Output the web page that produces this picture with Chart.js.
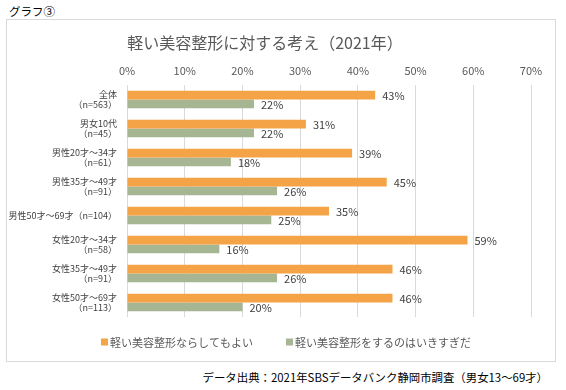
<!DOCTYPE html>
<html><head><meta charset="utf-8">
<script src="https://cdn.jsdelivr.net/npm/chart.js@4"></script>
<style>
body{margin:0;width:566px;height:390px;background:#fff;position:relative;overflow:hidden;font-family:"Noto Sans CJK JP",sans-serif;}
#lbl{position:absolute;left:9px;top:3px;font-size:11.5px;line-height:16px;color:#000;}
#box{position:absolute;left:6px;top:19px;width:550px;height:343px;border:1px solid #D9D9D9;box-sizing:border-box;}
#title{position:absolute;left:0;width:530px;top:31px;text-align:center;font-size:16px;line-height:22px;color:#595959;}
#src{position:absolute;right:18px;top:368px;font-size:11.4px;line-height:18px;color:#000;white-space:nowrap;}
#wrap{position:absolute;left:7px;top:20px;width:548px;height:341px;}
</style>
</head><body>
<div id="lbl">グラフ③</div>
<div id="box"></div>
<div id="wrap"><canvas id="c" width="548" height="341"></canvas></div>
<div id="title">軽い美容整形に対する考え（2021年）</div>
<div id="src">データ出典：2021年SBSデータバンク静岡市調査（男女13～69才）</div>
<script>
const categories = [
  ["全体","（n=563）"],
  ["男女10代","（n=45）"],
  ["男性20才～34才","（n=61）"],
  ["男性35才～49才","（n=91）"],
  "男性50才～69才（n=104）",
  ["女性20才～34才","（n=58）"],
  ["女性35才～49才","（n=91）"],
  ["女性50才～69才","（n=113）"]
];
const seriesNames = ["軽い美容整形ならしてもよい","軽い美容整形をするのはいきすぎだ"];
const okValues = [43,31,39,45,35,59,46,46];
const tooMuchValues = [22,22,18,26,25,16,26,20];
const tickValues = [0,10,20,30,40,50,60,70];
const colors = ["#F4A446","#A6B592"];
const FONT = '"Noto Sans CJK JP", sans-serif';

const dataLabels = {
  id:'dataLabels',
  afterDatasetsDraw(chart){
    const ctx = chart.ctx;
    ctx.save();
    ctx.font = '11px ' + FONT;
    ctx.fillStyle = '#404040';
    ctx.textAlign = 'left';
    ctx.textBaseline = 'middle';
    chart.data.datasets.forEach((ds,i)=>{
      chart.getDatasetMeta(i).data.forEach((bar,j)=>{
        ctx.fillText(ds.data[j] + '%', bar.x + 7, bar.y + 1);
      });
    });
    ctx.restore();
  }
};
const customLegend = {
  id:'customLegend',
  afterDraw(chart){
    const ctx = chart.ctx;
    ctx.save();
    ctx.font = '11px ' + FONT;
    ctx.textBaseline = 'middle';
    ctx.textAlign = 'left';
    const box = 7, gapBox = 2, gapItem = 33;
    const widths = chart.data.datasets.map(ds => box + gapBox + ctx.measureText(ds.label).width);
    const total = widths.reduce((a,b)=>a+b,0) + gapItem*(widths.length-1);
    let x = (chart.width - total)/2 + 5;
    const y = 322;
    chart.data.datasets.forEach((ds,i)=>{
      ctx.fillStyle = ds.backgroundColor;
      ctx.fillRect(x, y-3.5, box, box);
      ctx.fillStyle = '#595959';
      ctx.fillText(ds.label, x + box + gapBox, y + 0.5);
      x += widths[i] + gapItem;
    });
    ctx.restore();
  }
};

new Chart(document.getElementById('c'), {
  type:'bar',
  data:{
    labels: categories,
    datasets:[
      {label: seriesNames[0], data: okValues, backgroundColor: colors[0], categoryPercentage:0.6, barPercentage:1},
      {label: seriesNames[1], data: tooMuchValues, backgroundColor: colors[1], categoryPercentage:0.6, barPercentage:1}
    ]
  },
  options:{
    indexAxis:'y',
    responsive:false,
    animation:false,
    devicePixelRatio:1,
    layout:{padding:{top:0,left:0,right:24,bottom:44}},
    plugins:{legend:{display:false},tooltip:{enabled:false},title:{display:false}},
    scales:{
      x:{
        position:'top',
        min:0,max:70,
        afterBuildTicks(scale){ scale.ticks = tickValues.map(v=>({value:v})); },
        afterFit(scale){ scale.height = 65; },
        ticks:{callback:v=>v+'%', color:'#595959', font:{family:FONT,size:11}, padding:8, maxRotation:0},
        grid:{color:'#D9D9D9', drawTicks:false, lineWidth:1},
        border:{display:false}
      },
      y:{
        afterFit(scale){ scale.width = 120; },
        ticks:{color:'#404040', font:{family:FONT,size:9,lineHeight:1.2}, padding:10, autoSkip:false},
        grid:{display:false, drawTicks:false},
        border:{display:false}
      }
    }
  },
  plugins:[dataLabels, customLegend]
});
</script>
</body></html>
